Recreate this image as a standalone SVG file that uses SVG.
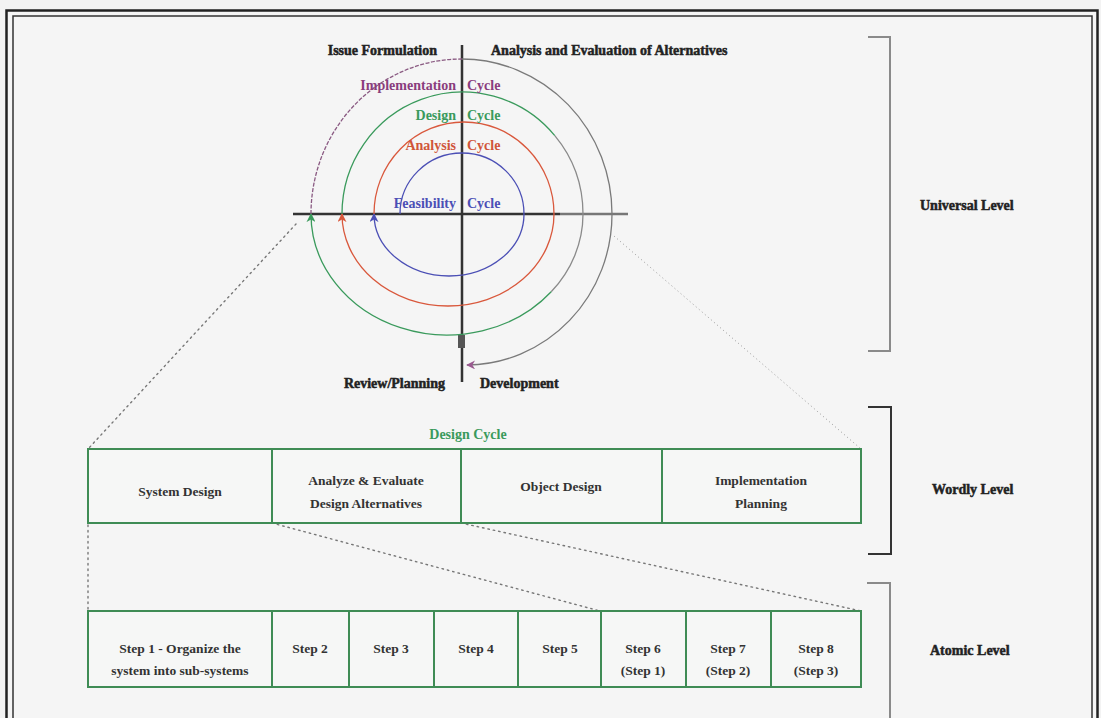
<svg xmlns="http://www.w3.org/2000/svg" width="1101" height="718" viewBox="0 0 1101 718">
  <style>
    .lbl { font-family: "Liberation Serif", "Times New Roman", serif; font-weight: bold; font-size: 14px; fill: #222; stroke: #222; stroke-width: 0.5; }
    .box-t { font-family: "Liberation Serif", "Times New Roman", serif; font-weight: bold; font-size: 13.5px; fill: #333; text-anchor: middle; }
    .cyc { font-family: "Liberation Serif", "Times New Roman", serif; font-weight: bold; font-size: 14px; }
    .cell { fill: #f6f7f6; stroke: #3f8c55; stroke-width: 2; }
    .div { stroke: #3f8c55; stroke-width: 2; }
    .bracket { fill: none; stroke: #8a8a8a; stroke-width: 2; }
    .bracket-dark { fill: none; stroke: #333; stroke-width: 2; }
    .dots { fill: none; stroke: #777; stroke-width: 1.4; stroke-dasharray: 1.5 4; stroke-linecap: round; }
    .dots-fine { fill: none; stroke: #999; stroke-width: 1; stroke-dasharray: 1 3; }
    .axis { stroke: #333; stroke-width: 2.5; }
  </style>
  <defs>
    <marker id="arr-blue" viewBox="0 0 10 10" refX="9" refY="5" markerWidth="9" markerHeight="9" markerUnits="userSpaceOnUse" orient="auto">
      <path d="M0,0 L10,5 L0,10 L3,5 z" fill="#4b4fb5"/>
    </marker>
    <marker id="arr-orange" viewBox="0 0 10 10" refX="9" refY="5" markerWidth="9" markerHeight="9" markerUnits="userSpaceOnUse" orient="auto">
      <path d="M0,0 L10,5 L0,10 L3,5 z" fill="#d9583c"/>
    </marker>
    <marker id="arr-green" viewBox="0 0 10 10" refX="9" refY="5" markerWidth="9" markerHeight="9" markerUnits="userSpaceOnUse" orient="auto">
      <path d="M0,0 L10,5 L0,10 L3,5 z" fill="#3a9a5c"/>
    </marker>
    <marker id="arr-purple" viewBox="0 0 10 10" refX="9" refY="5" markerWidth="9" markerHeight="9" markerUnits="userSpaceOnUse" orient="auto">
      <path d="M0,0 L10,5 L0,10 L3,5 z" fill="#9a5a90"/>
    </marker>
  </defs>

  <!-- page and double frame -->
  <rect x="0" y="0" width="1101" height="718" fill="#f3f3f3"/>
  <rect x="6.5" y="10.5" width="1091" height="730" fill="#f5f5f5" stroke="#222" stroke-width="2.5"/>
  <rect x="13" y="16" width="1079" height="720" fill="none" stroke="#333" stroke-width="1.5"/>

  <!-- spiral model -->
  <g id="spiral">
    <line class="axis" x1="293" y1="214" x2="560" y2="214"/>
    <line x1="560" y1="214" x2="628" y2="214" stroke="#777" stroke-width="2.5"/>
    <line class="axis" x1="462" y1="45" x2="462" y2="382"/>
    <rect x="458" y="335" width="7" height="13" fill="#555"/>

    <!-- feasibility -->
    <path d="M400,214 A62,61 0 0 1 524,214 A75,62 0 0 1 374,214" fill="none" stroke="#4b4fb5" stroke-width="1.3" marker-end="url(#arr-blue)"/>
    <!-- analysis -->
    <path d="M374,214 A90,92 0 0 1 554,214 A106,92 0 0 1 342,214" fill="none" stroke="#d9583c" stroke-width="1.3" marker-end="url(#arr-orange)"/>
    <!-- design -->
    <path d="M342,214 A120.5,122 0 0 1 554.8,135.6" fill="none" stroke="#3a9a5c" stroke-width="1.3"/>
    <path d="M554.8,135.6 A120.5,122 0 0 1 583,214 A136,121 0 0 1 551.2,291.8" fill="none" stroke="#8a8a8a" stroke-width="1.3"/>
    <path d="M551.2,291.8 A136,121 0 0 1 311,214" fill="none" stroke="#3a9a5c" stroke-width="1.3" marker-end="url(#arr-green)"/>
    <!-- implementation -->
    <path d="M311,214 A150.5,155 0 0 1 462,59" fill="none" stroke="#8a5a82" stroke-width="1.3" stroke-dasharray="4 1.5"/>
    <path d="M462,59 A150.5,155 0 0 1 612,214 A146,151 0 0 1 467,365" fill="none" stroke="#7a7a7a" stroke-width="1.3" marker-end="url(#arr-purple)"/>

    <text class="cyc" x="456" y="90" text-anchor="end" fill="#8a3d7d">Implementation</text>
    <text class="cyc" x="467" y="90" fill="#8a3d7d">Cycle</text>
    <text class="cyc" x="456" y="120" text-anchor="end" fill="#3a9a5c">Design</text>
    <text class="cyc" x="467" y="120" fill="#3a9a5c">Cycle</text>
    <text class="cyc" x="456" y="150" text-anchor="end" fill="#d0553a">Analysis</text>
    <text class="cyc" x="467" y="150" fill="#d0553a">Cycle</text>
    <text class="cyc" x="456" y="208" text-anchor="end" fill="#4b4fb5">Feasibility</text>
    <text class="cyc" x="467" y="208" fill="#4b4fb5">Cycle</text>

    <text class="lbl" x="437" y="55" text-anchor="end">Issue Formulation</text>
    <text class="lbl" x="491" y="55">Analysis and Evaluation of Alternatives</text>
    <text class="lbl" x="445" y="388" text-anchor="end">Review/Planning</text>
    <text class="lbl" x="480" y="388">Development</text>
  </g>

  <!-- links between levels -->
  <g id="connectors">
    <line class="dots" x1="296" y1="224" x2="88" y2="449"/>
    <line class="dots-fine" x1="614" y1="236" x2="861" y2="449"/>
    <line class="dots" x1="88" y1="525" x2="88" y2="609"/>
    <line class="dots" x1="272" y1="523" x2="600" y2="611"/>
    <line class="dots" x1="461" y1="523" x2="861" y2="611"/>
  </g>

  <!-- wordly level: design cycle -->
  <g id="design-cycle">
    <text class="cyc" x="468" y="439" text-anchor="middle" fill="#3a9a5c">Design Cycle</text>
    <rect class="cell" x="88" y="449" width="773" height="74"/>
    <line class="div" x1="272" y1="449" x2="272" y2="523"/>
    <line class="div" x1="461" y1="449" x2="461" y2="523"/>
    <line class="div" x1="662" y1="449" x2="662" y2="523"/>
    <text class="box-t" x="180" y="496">System Design</text>
    <text class="box-t" x="366" y="485">Analyze &amp; Evaluate</text>
    <text class="box-t" x="366" y="508">Design Alternatives</text>
    <text class="box-t" x="561" y="491">Object Design</text>
    <text class="box-t" x="761" y="485">Implementation</text>
    <text class="box-t" x="761" y="508">Planning</text>
  </g>

  <!-- atomic level: steps -->
  <g id="steps">
    <rect class="cell" x="88" y="611" width="773" height="76"/>
    <line class="div" x1="272" y1="611" x2="272" y2="687"/>
    <line class="div" x1="349" y1="611" x2="349" y2="687"/>
    <line class="div" x1="434" y1="611" x2="434" y2="687"/>
    <line class="div" x1="518" y1="611" x2="518" y2="687"/>
    <line class="div" x1="601" y1="611" x2="601" y2="687"/>
    <line class="div" x1="686" y1="611" x2="686" y2="687"/>
    <line class="div" x1="771" y1="611" x2="771" y2="687"/>
    <text class="box-t" x="180" y="653">Step 1 - Organize the</text>
    <text class="box-t" x="180" y="675">system into sub-systems</text>
    <text class="box-t" x="310" y="653">Step 2</text>
    <text class="box-t" x="391" y="653">Step 3</text>
    <text class="box-t" x="476" y="653">Step 4</text>
    <text class="box-t" x="560" y="653">Step 5</text>
    <text class="box-t" x="643" y="653">Step 6</text>
    <text class="box-t" x="643" y="675">(Step 1)</text>
    <text class="box-t" x="728" y="653">Step 7</text>
    <text class="box-t" x="728" y="675">(Step 2)</text>
    <text class="box-t" x="816" y="653">Step 8</text>
    <text class="box-t" x="816" y="675">(Step 3)</text>
  </g>

  <!-- level brackets -->
  <g id="universal-level">
    <path class="bracket" d="M868,37 H890 V351 H868"/>
    <text class="lbl" x="920" y="210">Universal Level</text>
  </g>
  <g id="wordly-level">
    <path class="bracket-dark" d="M868,407 H891 V554 H868"/>
    <text class="lbl" x="932" y="494">Wordly Level</text>
  </g>
  <g id="atomic-level">
    <path class="bracket" d="M867,583 H890 V718"/>
    <text class="lbl" x="930" y="655">Atomic Level</text>
  </g>
</svg>
